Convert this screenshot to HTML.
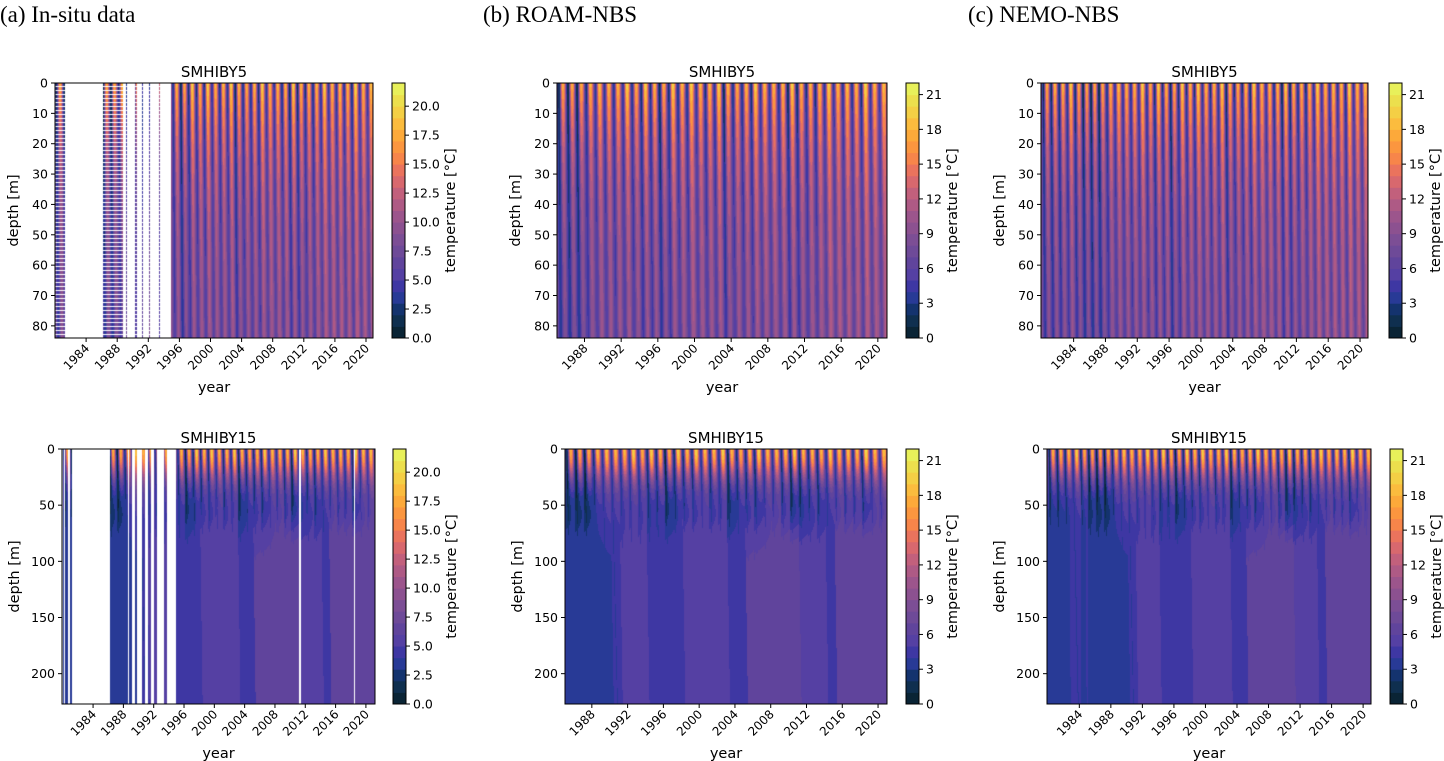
<!DOCTYPE html>
<html><head><meta charset="utf-8">
<style>
html,body{margin:0;padding:0;background:#fff;}
#root{position:relative;width:1444px;height:761px;overflow:hidden;font-family:"DejaVu Sans","Liberation Sans",sans-serif;}
canvas{position:absolute;}
svg{position:absolute;left:0;top:0;}
.hdr{position:absolute;font-family:"Liberation Serif",serif;font-size:23px;color:#000;top:2px;}
</style></head>
<body>
<div id="root">
<div class="hdr" style="left:0px">(a) In-situ data</div>
<div class="hdr" style="left:483px">(b) ROAM-NBS</div>
<div class="hdr" style="left:968px">(c) NEMO-NBS</div>
<svg id="ax" width="1444" height="761"></svg>
</div>
<script>
// ---- data (approximate) ----
const years = [1980,1981,1982,1983,1984,1985,1986,1987,1988,1989,1990,1991,1992,1993,1994,1995,1996,1997,1998,1999,2000,2001,2002,2003,2004,2005,2006,2007,2008,2009,2010,2011,2012,2013,2014,2015,2016,2017,2018,2019,2020];
const summerMax = [18,18.5,18.5,20,18,18,18,18,18.5,19,18.5,18.5,20,18,20,18.5,18,20,18.5,20,18.5,18.5,20,18.5,18,18.5,20,18.5,18.5,18.5,20,18.5,18.5,18.5,20,18.5,19,18.5,20.5,18.5,19];
const winterMin = [1.5,1.5,2,3,2,0.8,0.5,0.5,2.5,3.5,3.5,3,3.5,3,2,2.5,0.8,2,2.5,2.5,3.5,2.5,3,1,2.5,2.5,2,3.5,3.5,2.5,1,1.5,2.5,2,3,3.5,3,3,2,3.5,4];
const deepBY5 = [5,5,5,5.5,5,4.5,4.5,4.5,5.5,6,6,6,6,6,5.5,6,5,6,6.5,6.5,6.5,6.5,6.5,5.5,6.5,6.5,6.5,7,7,7,6,6,6.5,7,7.5,7.5,7.5,7.5,7.5,7.5,7.5];
const deepBY15 = [4,4,4,4,4,3.8,3.8,3.8,3.8,3.9,4,5.2,5.3,5.3,4.4,4.4,4.5,4.6,6,6,6,6,6,4.6,4.6,6.1,6.2,6.2,6.8,6.8,6.8,5.5,5.5,5.5,4.5,7,7,7,7,6.8,6.8];
const levelColors = ["#0a2435","#0f2f4f","#14336e","#283a96","#3e37a3","#5540a3","#60449c","#6e4a98","#7c4e95","#8c5190","#9c558c","#ae5a85","#c2607c","#d8686e","#ea735d","#f7854a","#fb963f","#fca93a","#fbbc3e","#f4cf45","#ecdf4d","#e8f05a"];
const yearTicks = [1984,1988,1992,1996,2000,2004,2008,2012,2016,2020];
const depthTicks5 = [0,10,20,30,40,50,60,70,80];
const depthTicks15 = [0,50,100,150,200];
const cbTicksA = [0,2.5,5,7.5,10,12.5,15,17.5,20];
const cbTicksBC = [0,3,6,9,12,15,18,21];
const VMAX = 22;
const insitu5Ranges = [[1980.0,1981.3],[1986.2,1988.7],[1989.1,1989.25],[1990.35,1990.5],[1991.2,1991.35],[1992.05,1992.2],[1993.35,1993.5],[1994.9,2030]];
const insitu15Ranges = [[1980.0,1980.15],[1980.3,1980.5],[1980.6,1980.75],[1980.9,1981.2],[1986.2,1988.6],[1988.8,1989.2],[1989.5,1989.8],[1990.4,1990.8],[1991.3,1991.6],[1992.0,1992.4],[1993.3,1993.7],[1994.9,2030]];
const insitu15Gaps = [2011.3,2018.5];

const panels = [
 {id:'a5',title:'SMHIBY5',x:55,y:83,w:318,h:255,t0:1980.0,t1:2020.9,zmax:84,st:5,insitu:true,cbx:392,cbt:cbTicksA,dec:1},
 {id:'b5',title:'SMHIBY5',x:557,y:83,w:330,h:255,t0:1985.0,t1:2021.0,zmax:84,st:5,insitu:false,cbx:906,cbt:cbTicksBC,dec:0},
 {id:'c5',title:'SMHIBY5',x:1041,y:83,w:327,h:255,t0:1979.9,t1:2021.0,zmax:84,st:5,insitu:false,cbx:1389,cbt:cbTicksBC,dec:0},
 {id:'a15',title:'SMHIBY15',x:62,y:449,w:313,h:255,t0:1979.9,t1:2021.2,zmax:227,st:15,insitu:true,cbx:393,cbt:cbTicksA,dec:1},
 {id:'b15',title:'SMHIBY15',x:565,y:449,w:322,h:255,t0:1985.0,t1:2021.0,zmax:227,st:15,insitu:false,cbx:906,cbt:cbTicksBC,dec:0},
 {id:'c15',title:'SMHIBY15',x:1047,y:449,w:324,h:255,t0:1979.9,t1:2021.0,zmax:227,st:15,insitu:false,cbx:1390,cbt:cbTicksBC,dec:0}
];

function yi(t){let i=Math.floor(t)-years[0];return Math.max(0,Math.min(years.length-1,i));}
function surf(t){
  const y=Math.floor(t), f=t-y;
  const W=k=>winterMin[yi(k)], S=k=>summerMax[yi(k)];
  let a,b,u;
  if(f<0.2){a=S(y-1);b=W(y);u=(f+0.38)/0.58;}
  else if(f<0.62){a=W(y);b=S(y);u=(f-0.2)/0.42; const r=Math.pow((1-Math.cos(Math.PI*u))/2,0.8); return a+(b-a)*r;}
  else {a=S(y);b=W(y+1);u=(f-0.62)/0.58;}
  const r=Math.pow((1-Math.cos(Math.PI*u))/2,1.3); return a+(b-a)*r;
}
function temp5(t,z){
  const lag=z*0.003; const D=deepBY5[yi(t-lag)];
  const g=0.3+0.7*Math.exp(-z/26);
  return D+(surf(t-lag)-D)*g;
}
function temp15(t,z){
  const lag=z*0.003; const ts=surf(t-lag); const y=Math.floor(t-0.15);
  const C=winterMin[yi(y)]+1+1.5*Math.max(0,(t-y-0.2));
  let up = ts>C ? C+(ts-C)*Math.exp(-Math.pow(z/28,2)) : ts;
  const D=deepBY15[yi(t-z*0.002)];
  const h=1/(1+Math.exp(-(z-68)/9));
  return up*(1-h)+D*h;
}
function hex(c){return [parseInt(c.substr(1,2),16),parseInt(c.substr(3,2),16),parseInt(c.substr(5,2),16)];}
const rgb=levelColors.map(hex);
function avail(p,t){
  if(!p.insitu) return true;
  const R=p.st===5?insitu5Ranges:insitu15Ranges;
  let ok=R.some(r=>t>=r[0]&&t<=r[1]);
  if(ok&&p.st===15) for(const g of insitu15Gaps) if(Math.abs(t-g)<0.07) ok=false;
  return ok;
}
const root=document.getElementById('root');
const svg=document.getElementById('ax');
const NS='http://www.w3.org/2000/svg';
function el(tag,attrs,parent){const e=document.createElementNS(NS,tag);for(const k in attrs)e.setAttribute(k,attrs[k]);(parent||svg).appendChild(e);return e;}

panels.forEach(p=>{
  const cv=document.createElement('canvas');
  cv.width=p.w;cv.height=p.h;cv.style.left=p.x+'px';cv.style.top=p.y+'px';
  
  
  root.insertBefore(cv,svg);
  const ctx=cv.getContext('2d');const im=ctx.createImageData(p.w,p.h);
  for(let c=0;c<p.w;c++){
    const t=p.t0+(c+0.5)/p.w*(p.t1-p.t0);
    const has=avail(p,t);
    for(let r=0;r<p.h;r++){
      const z=(r+0.5)/p.h*p.zmax; const o=(r*p.w+c)*4;
      let col=[255,255,255];
      if(has){
        const dotted=p.insitu&&p.st===5&&t<1994.9&&(r%4===3);
        if(!dotted){
          const v=p.st===5?temp5(t,z):temp15(t,z);
          let i=Math.floor(v/VMAX*22);i=Math.max(0,Math.min(21,i));col=rgb[i];
        }
      }
      im.data[o]=col[0];im.data[o+1]=col[1];im.data[o+2]=col[2];im.data[o+3]=255;
    }
  }
  ctx.putImageData(im,0,0);

  const fr=el('rect',{x:p.x,y:p.y,width:p.w,height:p.h,fill:'none',stroke:'#000','stroke-width':1});
  
  
  const ti=el('text',{x:p.x+p.w/2,y:p.y-6,'text-anchor':'middle','font-size':15,fill:'#000'});
  ti.textContent=p.title;
  
  
  const dt=p.st===5?depthTicks5:depthTicks15;
  dt.forEach(d=>{
    const yy=p.y+d/p.zmax*p.h;
    el('line',{x1:p.x-4,x2:p.x,y1:yy,y2:yy,stroke:'#000'});
    const tx=el('text',{x:p.x-7,y:yy+4.5,'text-anchor':'end','font-size':12.5,fill:'#000'});
    tx.textContent=String(d);
    
    
  });
  const yl=el('text',{transform:`translate(${p.x-(p.st===5?37:43)},${p.y+p.h/2}) rotate(-90)`,'text-anchor':'middle','font-size':14.5,fill:'#000'});
  yl.textContent='depth [m]';
  
  
  yearTicks.forEach(yv=>{
    if(yv<p.t0||yv>p.t1) return;
    const xx=p.x+(yv-p.t0)/(p.t1-p.t0)*p.w;
    el('line',{x1:xx,x2:xx,y1:p.y+p.h,y2:p.y+p.h+4,stroke:'#000'});
    const tx=el('text',{transform:`translate(${xx+4},${p.y+p.h+11}) rotate(-45)`,'text-anchor':'end','font-size':12,fill:'#000'});
    tx.textContent=String(yv);
    
    
  });
  const xl=el('text',{x:p.x+p.w/2,y:p.y+p.h+54,'text-anchor':'middle','font-size':14.5,fill:'#000'});
  xl.textContent='year';
  
  
  const cbw=13;
  for(let i=0;i<22;i++){
    const h=p.h/22;
    const rc=el('rect',{x:p.cbx,y:p.y+p.h-(i+1)*h,width:cbw,height:h+0.5,fill:levelColors[i]});
    
    
  }
  el('rect',{x:p.cbx,y:p.y,width:cbw,height:p.h,fill:'none',stroke:'#000'});
  p.cbt.forEach(v=>{
    const yy=p.y+p.h-v/VMAX*p.h;
    el('line',{x1:p.cbx+cbw,x2:p.cbx+cbw+4,y1:yy,y2:yy,stroke:'#000'});
    const tx=el('text',{x:p.cbx+cbw+7,y:yy+4.5,'font-size':12.5,fill:'#000'});
    tx.textContent=p.dec?v.toFixed(1):String(v);
    
    
  });
  const cl=el('text',{transform:`translate(${p.cbx+(p.dec?63:51)},${p.y+p.h/2}) rotate(-90)`,'text-anchor':'middle','font-size':14.5,fill:'#000'});
  cl.textContent='temperature [°C]';
  
  
});
</script>
</body></html>
